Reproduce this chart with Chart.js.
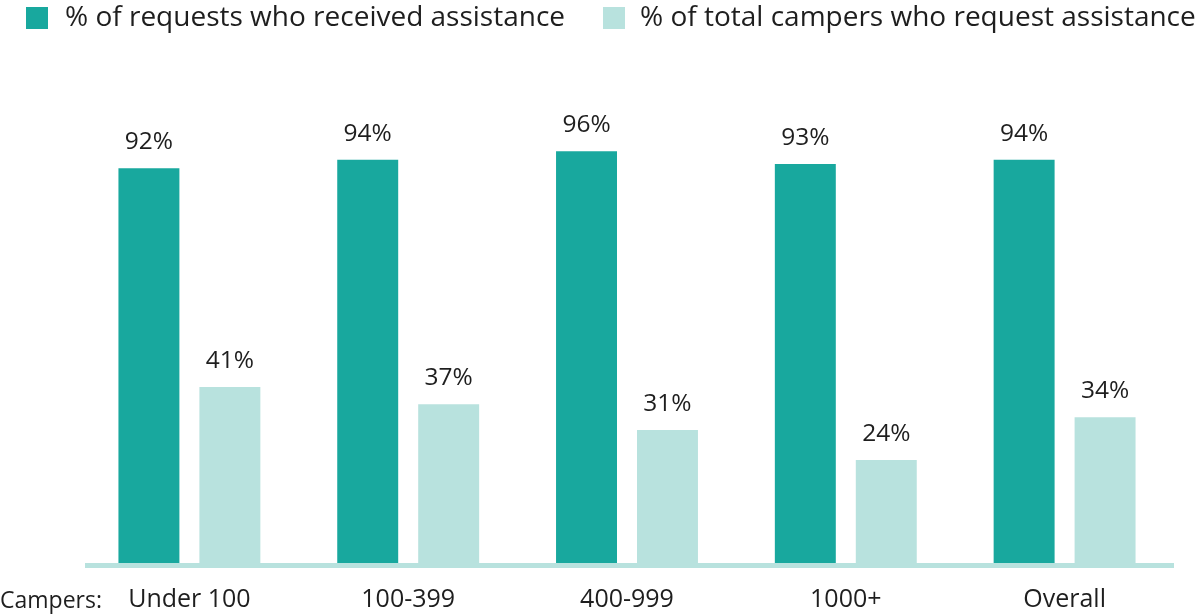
<!DOCTYPE html>
<html>
<head>
<meta charset="utf-8">
<script src="https://cdn.jsdelivr.net/npm/chart.js@4.4.1/dist/chart.umd.min.js"></script>
<style>
html,body{margin:0;padding:0;background:#fff;overflow:hidden;}
#wrap{width:1200px;height:614px;position:relative;}
</style>
</head>
<body>
<div id="wrap"><canvas id="c" width="1200" height="614"></canvas></div>
<script>
const categories = ["Under 100", "100-399", "400-999", "1000+", "Overall"];
const receivedAssistance = [92, 94, 96, 93, 94];
const requestAssistance = [41, 37, 31, 24, 34];
const seriesNames = ["% of requests who received assistance", "% of total campers who request assistance"];
const axisPrefix = "Campers:";

const DARK = "#18a89e";
const LIGHT = "#b8e2de";
const FONT = "'Open Sans'";
const TEXT = "#1e1e1e";

const customPlugin = {
  id: "custom",
  beforeDatasetsDraw(chart) {
    const {ctx, chartArea} = chart;
    ctx.save();
    ctx.fillStyle = LIGHT;
    ctx.fillRect(chartArea.left + 5, chartArea.bottom, chartArea.right - chartArea.left - 5, 5);
    ctx.restore();
  },
  afterDatasetsDraw(chart) {
    const {ctx} = chart;
    ctx.save();
    ctx.fillStyle = TEXT;
    ctx.textAlign = "center";
    ctx.textBaseline = "alphabetic";
    ctx.font = "24.5px " + FONT;
    chart.data.datasets.forEach((ds, i) => {
      const meta = chart.getDatasetMeta(i);
      meta.data.forEach((bar, j) => {
        ctx.fillText(ds.data[j] + "%", bar.x, bar.y - 19);
      });
    });
    // legend
    ctx.textAlign = "left";
    ctx.textBaseline = "middle";
    ctx.font = "28px " + FONT;
    const items = [{x: 26, c: DARK, tx: 65}, {x: 603, c: LIGHT, tx: 640}];
    items.forEach((it, i) => {
      ctx.fillStyle = it.c;
      ctx.fillRect(it.x, 7, 22, 22);
      ctx.fillStyle = TEXT;
      ctx.fillText(chart.data.datasets[i].label, it.tx, 18);
    });
    // axis prefix
    ctx.textBaseline = "alphabetic";
    ctx.font = "23px " + FONT;
    ctx.fillText(axisPrefix, 0, 608);
    ctx.restore();
  }
};

new Chart(document.getElementById("c"), {
  type: "bar",
  data: {
    labels: categories,
    datasets: [
      {label: seriesNames[0], data: receivedAssistance, backgroundColor: DARK},
      {label: seriesNames[1], data: requestAssistance, backgroundColor: LIGHT}
    ]
  },
  options: {
    responsive: false,
    animation: false,
    events: [],
    layout: {padding: {left: 80, right: 26, top: 134, bottom: 0}},
    datasets: {bar: {categoryPercentage: 0.74, barPercentage: 0.753}},
    plugins: {legend: {display: false}, tooltip: {enabled: false}},
    scales: {
      x: {
        grid: {display: false, drawTicks: false},
        border: {display: false},
        ticks: {color: TEXT, font: {family: "Open Sans", size: 25}, padding: 22, maxRotation: 0},
        afterFit(scale) { scale.height = 51; }
      },
      y: {
        display: false,
        min: 0,
        max: 100
      }
    }
  },
  plugins: [customPlugin]
});
</script>
</body>
</html>
